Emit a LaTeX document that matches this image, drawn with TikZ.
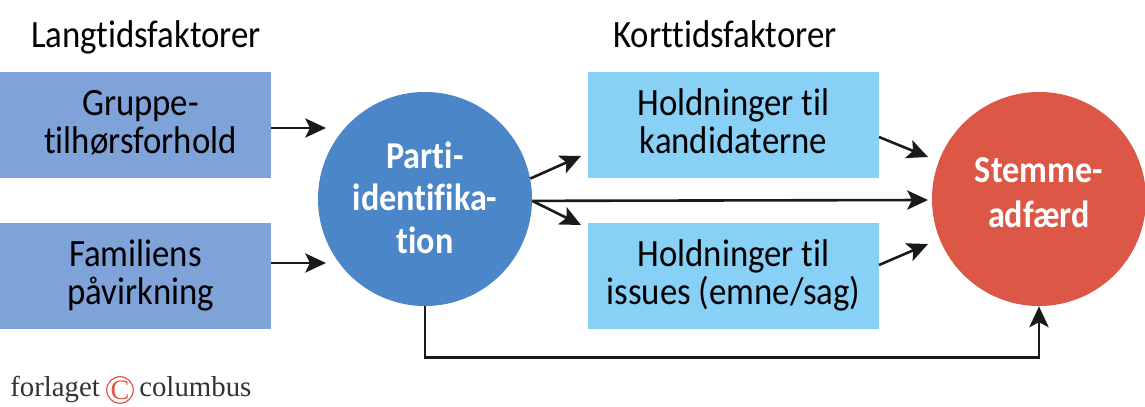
\documentclass[tikz,border=0pt]{standalone}
\usepackage{fontspec}
\setmainfont[Ligatures=NoCommon,FakeStretch=0.9]{Carlito}
\newfontfamily\logofont{Liberation Serif}
\usetikzlibrary{arrows.meta}
\definecolor{langblue}{HTML}{7FA2D9}
\definecolor{kortblue}{HTML}{89D0F7}
\definecolor{partiblue}{HTML}{4A86C8}
\definecolor{stemmered}{HTML}{DC5746}
\definecolor{pilblack}{HTML}{1A1A1A}
\begin{document}
\begin{tikzpicture}[x=0.025cm,y=-0.025cm,
    lang/.style ={rectangle, fill=langblue, minimum width=6.775cm, minimum height=2.65cm, inner sep=0pt, align=center, text height=1.4cm, text depth=0cm, font=\fontsize{27.5}{27}\selectfont},
    kort/.style ={rectangle, fill=kortblue, minimum width=7.275cm, minimum height=2.65cm, inner sep=0pt, align=center, text height=1.4cm, text depth=0cm, font=\fontsize{27.5}{27}\selectfont},
    rund/.style ={circle, minimum size=5.35cm, inner sep=0pt, align=center, text=white, text depth=0cm, font=\fontsize{27}{30}\selectfont\bfseries},
    titel/.style ={inner sep=0pt, anchor=base, font=\fontsize{27.5}{26}\selectfont},
    pil/.style ={-{Stealth[length=0.52cm,width=0.48cm,inset=0.12cm]}, line width=0.065cm, draw=pilblack},
    logo/.style ={inner sep=0pt, text=black!80, font=\fontsize{20.5}{21}\logofont}]
   \useasboundingbox (0,0) rectangle (1145,407);

   \node[titel] (lt) at (146,47.5) {Langtidsfaktorer};
   \node[titel] (kt) at (725,47.5) {Korttidsfaktorer};

   \node[lang] (gruppe) at (135.5,125) {\hspace*{0.25cm}Gruppe-\\\hspace*{0.25cm}tilhørsforhold};
   \node[lang] (familie) at (135.5,276) {Familiens\\\hspace*{0.25cm}påvirkning};
   \node[rund, fill=partiblue, text height=2.7cm] (parti) at (425,199) {Parti-\\identifika-\\tion};
   \node[kort] (kand) at (733.5,125) {Holdninger til\\kandidaterne};
   \node[kort] (issues) at (733.5,276) {Holdninger til\\issues (emne/sag)};
   \node[rund, fill=stemmered, text height=1.4cm] (stemme) at (1039,199) {Stemme-\\[2pt]adfærd};

   \coordinate (e1) at (326,128);
   \coordinate (e2) at (326,263);
   \coordinate (e3) at (581,156);
   \coordinate (e4) at (581,225);
   \coordinate (e5) at (928,157);
   \coordinate (e6) at (928,244);
   \coordinate (e7) at (928,200);
   \coordinate (s5) at (879,137);
   \coordinate (s6) at (879,265);

   \draw[pil] (gruppe.east |- e1) -- (e1);
   \draw[pil] (familie.east |- e2) -- (e2);
   \draw[pil] (parti.11) -- (e3);
   \draw[pil] (parti.-1) -- (e4);
   \draw[pil] (parti.-1) -- (e7);
   \draw[pil] (s5) -- (e5);
   \draw[pil] (s6) -- (e6);
   \draw[pil] (parti.south) -- ++(0,51) -| (stemme.south);

   \node[logo, anchor=base west] (forlaget) at (10,396) {forlaget};
   \node[circle, draw=stemmered, line width=0.03cm, minimum size=0.62cm, inner sep=0pt, text=stemmered, font=\fontsize{20}{21}\logofont] (cmark) at (120,390) {C};
   \node[logo, anchor=base west] (columbus) at (139,396) {columbus};
 \end{tikzpicture}
\end{document}
